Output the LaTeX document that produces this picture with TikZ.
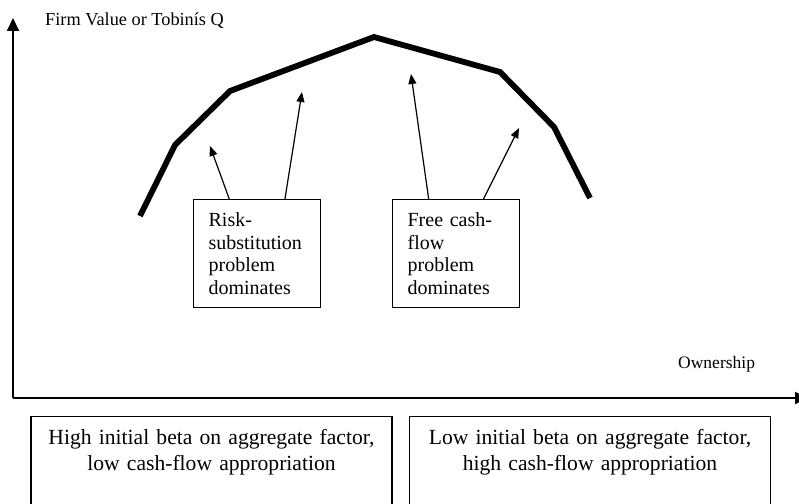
\documentclass[tikz,border=0pt]{standalone}
\usepackage{fontspec}
\setmainfont{Liberation Serif}
\usetikzlibrary{arrows.meta,calc}
\begin{document}
\begin{tikzpicture}[x=1pt,y=-1pt,
  axis/.style={line width=1.9pt,-{Triangle[length=13pt,width=12pt]}},
  curve/.style={line width=5.8pt,line join=miter},
  ptr/.style={line width=1.2pt,-{Triangle[length=10pt,width=8pt]}},
  smallbox/.style={draw,line width=1.2pt,anchor=north west,inner xsep=15pt,inner ysep=0pt,
    text width=97pt,align=left,text height=27pt,text depth=81pt,
    font=\fontsize{20}{22.5}\selectfont},
  bigbox/.style={draw,line width=1.2pt,anchor=north,inner xsep=10pt,inner ysep=0pt,
    text width=341pt,align=center,text height=28pt,text depth=120pt,
    font=\fontsize{21.6}{26}\selectfont},
  axlabel/.style={anchor=base west,inner sep=0pt,font=\fontsize{18.3}{20}\selectfont}]
\useasboundingbox (0,0) rectangle (799,503);
% axes
\coordinate (O) at (13,398);
\coordinate (Ytip) at (13,18);
\coordinate (Xtip) at (808,398);
\draw[axis] (O) -- (Ytip);
\draw[axis] (O) -- (Xtip);
\node[axlabel] (ylab) at (45,26) {Firm Value or Tobinís Q};
\node[axlabel,font=\fontsize{17.5}{20}\selectfont] (xlab) at (678,368) {Ownership};
% curve
\coordinate (c1) at (140,216);
\coordinate (c2) at (175,145);
\coordinate (c3) at (230,91);
\coordinate (c4) at (374,37);
\coordinate (c5) at (500,72);
\coordinate (c6) at (554,127);
\coordinate (c7) at (590,198);
\draw[curve] (c1) -- (c2) -- (c3) -- (c4) -- (c5) -- (c6) -- (c7);
% boxes
\node[smallbox,minimum width=127pt] (b1) at (193,199) {Risk-\\substitution\\problem\\dominates};
\node[smallbox,minimum width=126pt] (b2) at (392,199) {Free cash-\\flow\\problem\\dominates};
% arrows
\coordinate (t1) at (210,146);
\coordinate (t2) at (302,92);
\coordinate (t3) at (411,74);
\coordinate (t4) at (519,128);
\draw[ptr] ($(b1.north west)!0.283!(b1.north east)$) -- (t1);
\draw[ptr] ($(b1.north west)!0.717!(b1.north east)$) -- (t2);
\draw[ptr] ($(b2.north west)!0.286!(b2.north east)$) -- (t3);
\draw[ptr] ($(b2.north west)!0.714!(b2.north east)$) -- (t4);
% bottom boxes
\node[bigbox] (lb) at (211.5,416) {High initial beta on aggregate factor,\\low cash-flow appropriation};
\node[bigbox] (rb) at (590,416) {Low initial beta on aggregate factor,\\high cash-flow appropriation};
\end{tikzpicture}
\end{document}
